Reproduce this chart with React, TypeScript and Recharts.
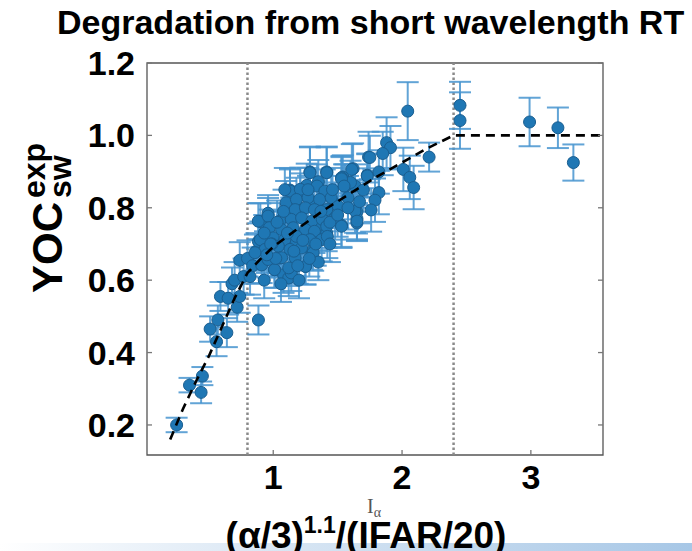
import { ScatterChart, Scatter, XAxis, YAxis, ErrorBar, ReferenceLine, ReferenceArea } from 'recharts'

// measured shots: normalised drive (x), YOC_sw^exp (y), 1-sigma error
const shotX = [
  0.25, 0.35, 0.45, 0.44, 0.51, 0.56, 0.57, 0.64, 0.59, 0.65, 0.72, 0.74, 0.68, 0.70, 0.74, 0.77,
  0.82, 0.885, 0.80, 0.84, 0.87, 0.885, 0.90, 0.91, 0.93, 0.96, 1.01, 1.05, 1.08, 1.12, 1.14, 1.13,
  1.17, 1.18, 1.21, 1.25, 1.26, 1.285, 1.30, 1.31, 1.34, 1.35, 1.415, 1.415, 1.48, 1.53, 1.54, 1.62,
  1.65, 1.65, 1.73, 1.74,
  1.285, 1.415, 1.61, 1.53, 1.13, 1.21, 1.34, 1.40, 1.56, 1.635, 1.10, 1.18, 1.27, 1.36, 1.45, 1.58,
  1.17, 1.25, 1.32, 1.415, 1.505, 1.635, 0.884, 0.96, 1.05, 1.14, 1.22, 1.30, 1.38, 1.48, 1.53, 1.65,
  0.97, 1.065, 1.155, 1.25, 1.32, 1.415, 0.90, 1.00, 1.09, 1.18, 1.285, 1.376, 1.42, 0.936, 1.04, 1.13,
  1.22, 1.31, 0.858, 0.96, 1.065, 1.17, 1.25, 1.01, 1.12, 0.99, 1.06, 1.20, 1.35, 1.44,
  0.93, 0.98, 1.03, 1.08, 1.11, 1.16, 1.19, 1.23, 1.28, 1.33, 1.37, 1.44, 1.46, 1.50, 1.58, 1.60,
  1.27, 1.02, 0.95, 1.09,
  2.044, 2.21, 2.01, 2.06, 2.09, 1.88, 1.91, 1.85, 1.75, 1.82, 1.73, 1.82, 1.79, 1.76, 1.65, 1.53,
  1.55, 1.67, 1.70,
  2.45, 2.45, 2.99, 3.21, 3.33,
]
const shotY = [
  0.20, 0.31, 0.335, 0.29, 0.465, 0.43, 0.49, 0.455, 0.555, 0.55, 0.525, 0.555, 0.59, 0.60, 0.655, 0.61,
  0.61, 0.49, 0.66, 0.64, 0.68, 0.707, 0.762, 0.642, 0.60, 0.785, 0.629, 0.661, 0.615, 0.606, 0.62, 0.849,
  0.798, 0.707, 0.835, 0.638, 0.862, 0.899, 0.679, 0.807, 0.743, 0.872, 0.899, 0.73, 0.81, 0.752, 0.885, 0.908,
  0.789, 0.77, 0.89, 0.94,
  0.897, 0.897, 0.906, 0.883, 0.846, 0.851, 0.86, 0.846, 0.86, 0.86, 0.814, 0.823, 0.828, 0.823, 0.828, 0.828,
  0.795, 0.80, 0.795, 0.795, 0.804, 0.791, 0.763, 0.777, 0.763, 0.768, 0.772, 0.763, 0.768, 0.772, 0.749, 0.758,
  0.745, 0.74, 0.745, 0.74, 0.735, 0.749, 0.712, 0.717, 0.712, 0.721, 0.712, 0.712, 0.721, 0.685, 0.694, 0.685,
  0.689, 0.676, 0.676, 0.657, 0.662, 0.662, 0.638, 0.629, 0.634, 0.70, 0.59, 0.60, 0.65, 0.70,
  0.73, 0.70, 0.76, 0.79, 0.73, 0.68, 0.64, 0.71, 0.66, 0.70, 0.79, 0.76, 0.85, 0.78, 0.80, 0.87,
  0.85, 0.66, 0.67, 0.85,
  1.067, 0.94, 0.906, 0.884, 0.856, 0.98, 0.966, 0.95, 0.939, 0.899, 0.888, 0.842, 0.821, 0.794, 0.763, 0.88,
  0.86, 0.817, 0.849,
  1.083, 1.041, 1.037, 1.021, 0.925,
]
const shotErr = [
  0.02, 0.02, 0.025, 0.03, 0.035, 0.04, 0.04, 0.04, 0.04, 0.045, 0.04, 0.045, 0.045, 0.05, 0.05, 0.05,
  0.05, 0.04, 0.05, 0.05, 0.05, 0.05, 0.05, 0.05, 0.05, 0.05, 0.05, 0.05, 0.05, 0.05, 0.05, 0.06,
  0.06, 0.05, 0.06, 0.05, 0.06, 0.07, 0.05, 0.06, 0.06, 0.06, 0.07, 0.05, 0.06, 0.06, 0.06, 0.07,
  0.06, 0.06, 0.06, 0.07,
  0.07, 0.07, 0.07, 0.06, 0.06, 0.06, 0.06, 0.06, 0.06, 0.06, 0.06, 0.06, 0.06, 0.06, 0.06, 0.06,
  0.06, 0.06, 0.06, 0.06, 0.06, 0.06, 0.05, 0.05, 0.05, 0.06, 0.06, 0.06, 0.06, 0.06, 0.06, 0.05,
  0.05, 0.05, 0.05, 0.06, 0.06, 0.06, 0.05, 0.05, 0.05, 0.05, 0.06, 0.06, 0.06, 0.05, 0.05, 0.05,
  0.05, 0.05, 0.05, 0.05, 0.05, 0.05, 0.05, 0.05, 0.05, 0.05, 0.05, 0.05, 0.05, 0.05,
  0.05, 0.05, 0.06, 0.06, 0.05, 0.05, 0.05, 0.05, 0.05, 0.06, 0.06, 0.06, 0.06, 0.06, 0.06, 0.06,
  0.06, 0.05, 0.05, 0.06,
  0.08, 0.04, 0.06, 0.06, 0.06, 0.07, 0.06, 0.06, 0.06, 0.06, 0.06, 0.06, 0.06, 0.06, 0.05, 0.06,
  0.06, 0.06, 0.06,
  0.065, 0.078, 0.067, 0.056, 0.05,
]

// dashed model curve
const fitX = [0.2, 0.3, 0.4, 0.5, 0.6, 0.7, 0.8, 0.9, 1.0, 1.2, 1.4, 1.6, 1.8, 2.0, 2.2, 2.4, 3.0, 3.56]
const fitY = [0.16, 0.245, 0.32, 0.39, 0.47, 0.55, 0.62, 0.658, 0.692, 0.745, 0.795, 0.84, 0.885, 0.925, 0.965, 1.0, 1.0, 1.0]

const xTicks = [1, 2, 3]
const yTicks = [0.2, 0.4, 0.6, 0.8, 1.0, 1.2]
const cutoffs = [0.8, 2.4]
const xDomain = [0.02, 3.56]
const yDomain = [0.117, 1.2]

const shots = shotX.map((x, i) => ({ x, y: shotY[i], err: shotErr[i] }))
const fit = fitX.map((x, i) => ({ x, y: fitY[i] }))

const FONT = '"Liberation Sans", Arial, sans-serif'
const TICK_LEN = 5
const TICK_COLOR = '#777'

// inward tick + label, drawn from the position Recharts hands us
const BottomTick = (p: any) => (
  <g>
    <line x1={p.x} x2={p.x} y1={p.y - 10} y2={p.y - 10 - TICK_LEN} stroke={TICK_COLOR} strokeWidth={1.3} />
    <text x={p.x} y={p.y} dy="0.71em" textAnchor="middle" fontFamily={FONT} fontWeight="bold" fontSize={34} fill="#000">
      {p.payload.value}
    </text>
  </g>
)
const TopTick = (p: any) => (
  <line x1={p.x} x2={p.x} y1={p.y} y2={p.y + TICK_LEN} stroke={TICK_COLOR} strokeWidth={1.3} />
)
const LeftTick = (p: any) => (
  <g>
    <line x1={p.x + 12} x2={p.x + 12 + TICK_LEN} y1={p.y} y2={p.y} stroke={TICK_COLOR} strokeWidth={1.3} />
    <text x={p.x} y={p.y} dy="0.355em" textAnchor="end" fontFamily={FONT} fontWeight="bold" fontSize={34} fill="#000">
      {p.payload.value.toFixed(1)}
    </text>
  </g>
)
const RightTick = (p: any) => (
  <line x1={p.x} x2={p.x - TICK_LEN} y1={p.y} y2={p.y} stroke={TICK_COLOR} strokeWidth={1.3} />
)

const Dot = (p: any) => (
  <circle cx={p.cx} cy={p.cy} r={6} fill="#1f77b4" stroke="#1a5e90" strokeWidth={1} />
)

export default function App() {
  return (
    <div style={{ position: 'absolute', left: 0, top: 0, width: 692, height: 551, background: '#fff', overflow: 'hidden' }}>
      <ScatterChart width={692} height={551} margin={{ top: 62, right: 0, bottom: 0, left: 0 }}>
        <XAxis
          type="number" dataKey="x" domain={xDomain} allowDataOverflow
          ticks={xTicks} interval={0} height={96}
          tickSize={0} tickMargin={10} axisLine={false} tickLine={false} tick={BottomTick}
        />
        <XAxis
          xAxisId="top" orientation="top" type="number" domain={xDomain} allowDataOverflow
          ticks={xTicks} interval={0} height={1}
          tickSize={0} tickMargin={0} axisLine={false} tickLine={false} tick={TopTick}
        />
        <YAxis
          type="number" dataKey="y" domain={yDomain} allowDataOverflow
          ticks={yTicks} interval={0} width={147}
          tickSize={0} tickMargin={12} axisLine={false} tickLine={false} tick={LeftTick}
        />
        <YAxis
          yAxisId="right" orientation="right" type="number" domain={yDomain} allowDataOverflow
          ticks={yTicks} interval={0} width={89}
          tickSize={0} tickMargin={0} axisLine={false} tickLine={false} tick={RightTick}
        />
        <ReferenceArea
          x1={xDomain[0]} x2={xDomain[1]} y1={yDomain[0]} y2={yDomain[1]}
          fill="none" stroke="#555" strokeWidth={1.3} ifOverflow="visible"
        />
        {cutoffs.map((c) => (
          <ReferenceLine key={c} x={c} stroke="#8a8a8a" strokeWidth={2.5} strokeDasharray="2.5 2.5" />
        ))}
        <Scatter data={shots} shape={Dot} isAnimationActive={false}>
          <ErrorBar dataKey="err" direction="y" width={11} stroke="#4794cf" strokeWidth={2} strokeOpacity={0.85} />
        </Scatter>
        <Scatter
          data={fit}
          line={{ stroke: '#000', strokeWidth: 2.6, strokeDasharray: '9 6' }}
          shape={() => <g />}
          isAnimationActive={false}
        />
      </ScatterChart>

      {/* slide footer band */}
      <div style={{ position: 'absolute', left: 0, top: 543, width: 692, height: 8, background: 'linear-gradient(to right, #ffffff, #dde9f5 35%, #a7c7e6)' }} />

      <svg width={692} height={551} style={{ position: 'absolute', left: 0, top: 0, pointerEvents: 'none' }}>
        <text x={57} y={34} fontFamily={FONT} fontWeight="bold" fontSize={34} fill="#000">
          Degradation from short wavelength RT
        </text>

        <g transform="translate(62,293) rotate(-90)" fontFamily={FONT} fontWeight="bold" fill="#000">
          <text x={0} y={0} fontSize={42}>YOC</text>
          <text x={95} y={-17} fontSize={32}>exp</text>
          <text x={95} y={9} fontSize={32}>sw</text>
        </g>

        <text x={366} y={548} textAnchor="middle" fontFamily={FONT} fontWeight="bold" fontSize={37} fill="#000">
          (α/3)<tspan fontSize={23} dy={-15}>1.1</tspan><tspan dy={15}>/(IFAR/20)</tspan>
        </text>

        <text x={367} y={513} fontFamily='"Liberation Serif", serif' fontSize={20} fill="#555">
          I<tspan fontSize={14} dy={4}>α</tspan>
        </text>
      </svg>
    </div>
  )
}
